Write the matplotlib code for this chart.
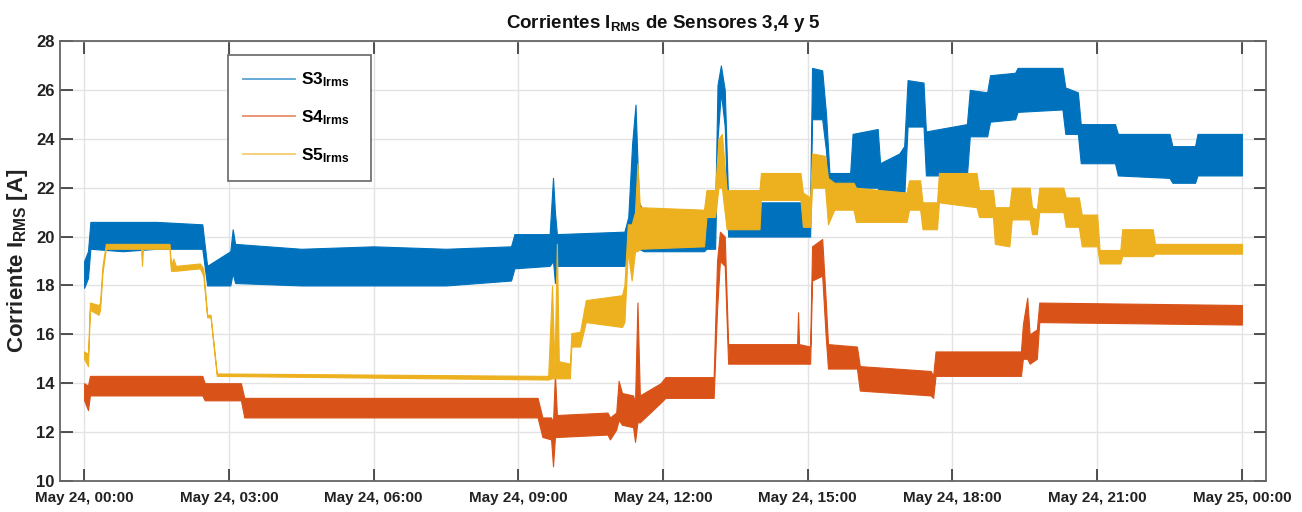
import matplotlib
matplotlib.use("Agg")
import matplotlib.pyplot as plt
from matplotlib.lines import Line2D

# ---------------- data: (hour since May 24 00:00, lower edge, upper edge) of each noisy band -------------
s3_band = [
    (0.00, 17.9, 19.0), (0.08, 18.3, 19.4), (0.13, 19.5, 20.6), (0.80, 19.4, 20.6), (1.50, 19.5, 20.6),
    (2.45, 19.5, 20.5), (2.55, 18.0, 18.8), (3.03, 18.0, 19.4), (3.08, 18.5, 20.3), (3.13, 18.1, 19.7),
    (4.50, 18.0, 19.5), (6.00, 18.0, 19.6), (7.50, 18.0, 19.5), (8.85, 18.2, 19.6), (8.92, 18.7, 20.1),
    (9.65, 18.8, 20.1), (9.72, 19.0, 22.4), (9.76, 18.1, 21.0), (9.80, 18.8, 20.1), (11.20, 18.8, 20.2),
    (11.28, 19.4, 20.8), (11.36, 19.5, 23.8), (11.43, 19.8, 25.4), (11.50, 19.5, 21.4), (11.60, 19.4, 21.0),
    (12.85, 19.4, 21.0), (12.90, 19.5, 20.8), (13.08, 19.5, 20.8), (13.13, 24.0, 26.2), (13.20, 25.9, 27.0),
    (13.28, 24.5, 26.0), (13.35, 20.0, 21.5), (14.00, 20.0, 21.4), (15.05, 20.0, 21.4), (15.09, 24.8, 26.9),
    (15.30, 24.8, 26.8), (15.38, 23.5, 25.0), (15.45, 21.2, 22.6), (15.88, 21.2, 22.6), (15.93, 22.0, 24.2),
    (16.45, 22.0, 24.4), (16.50, 21.5, 23.0), (16.90, 21.5, 23.4), (17.00, 21.6, 23.7), (17.07, 24.5, 26.4),
    (17.40, 24.5, 26.3), (17.45, 22.5, 24.3), (18.30, 22.5, 24.6), (18.36, 24.1, 26.0), (18.72, 24.1, 25.9),
    (18.78, 24.7, 26.6), (19.30, 24.8, 26.7), (19.35, 25.1, 26.9), (20.28, 25.2, 26.9), (20.34, 24.2, 26.1),
    (20.60, 24.2, 25.9), (20.66, 23.0, 24.6), (21.37, 23.0, 24.6), (21.43, 22.5, 24.2), (22.50, 22.4, 24.2),
    (22.56, 22.2, 23.7), (23.03, 22.2, 23.7), (23.08, 22.5, 24.2), (24.00, 22.5, 24.2),
]

s4_band = [
    (0.00, 13.3, 14.0), (0.08, 12.9, 13.9), (0.12, 13.5, 14.3), (2.45, 13.5, 14.3), (2.50, 13.3, 14.0),
    (3.25, 13.3, 14.0), (3.32, 12.6, 13.4), (9.40, 12.6, 13.4), (9.50, 11.8, 12.6), (9.68, 11.7, 12.6),
    (9.72, 10.6, 12.4), (9.76, 11.8, 14.4), (9.80, 11.8, 12.7), (10.85, 11.9, 12.8), (10.90, 11.7, 12.6),
    (11.03, 12.1, 12.8), (11.08, 12.5, 14.1), (11.15, 12.3, 13.6), (11.38, 12.2, 13.5), (11.42, 11.6, 13.2),
    (11.47, 12.4, 17.3), (11.52, 12.4, 13.5), (11.95, 13.2, 14.0), (12.05, 13.4, 14.25), (13.05, 13.4, 14.25),
    (13.12, 17.0, 19.0), (13.18, 19.0, 20.2), (13.28, 18.8, 20.0), (13.35, 14.8, 15.6), (14.78, 14.8, 15.6),
    (14.80, 14.8, 16.9), (14.82, 14.8, 15.6), (15.05, 14.8, 15.5), (15.09, 18.2, 19.6), (15.30, 18.4, 19.9),
    (15.37, 16.0, 17.5), (15.42, 14.6, 15.6), (16.02, 14.6, 15.5), (16.08, 13.7, 14.7), (17.55, 13.5, 14.5),
    (17.60, 13.4, 14.3), (17.65, 14.3, 15.3), (19.42, 14.3, 15.3), (19.46, 15.0, 16.4), (19.55, 15.0, 17.5),
    (19.60, 14.8, 16.0), (19.75, 15.0, 16.2), (19.80, 16.5, 17.3), (24.00, 16.4, 17.2),
]

s5_band = [
    (0.00, 15.0, 15.3), (0.08, 14.7, 15.2), (0.12, 17.0, 17.3), (0.30, 16.8, 17.2), (0.33, 17.0, 17.3),
    (0.38, 18.5, 18.8), (0.45, 19.5, 19.7), (1.18, 19.5, 19.7), (1.20, 18.8, 19.7), (1.22, 19.5, 19.7),
    (1.77, 19.5, 19.7), (1.80, 18.6, 18.8), (1.85, 18.6, 19.1), (1.90, 18.6, 18.8), (2.40, 18.7, 18.9),
    (2.47, 18.4, 18.7), (2.55, 16.7, 16.8), (2.62, 16.7, 16.8), (2.75, 14.3, 14.4), (9.62, 14.15, 14.3),
    (9.70, 14.2, 18.0), (9.75, 14.2, 14.6), (9.80, 14.2, 19.7), (9.84, 14.2, 14.9), (10.07, 14.2, 14.8),
    (10.10, 15.5, 16.05), (10.28, 15.5, 16.1), (10.40, 16.5, 17.4), (11.15, 16.3, 17.6), (11.20, 16.5, 18.0),
    (11.27, 19.4, 20.5), (11.35, 18.2, 20.5), (11.42, 19.4, 21.0), (11.47, 19.4, 23.0), (11.52, 19.5, 21.2),
    (12.85, 19.6, 21.1), (12.90, 20.8, 21.9), (13.08, 20.8, 21.9), (13.15, 22.0, 24.0), (13.22, 22.0, 24.2),
    (13.32, 20.3, 21.9), (14.00, 20.3, 21.9), (14.03, 21.5, 22.6), (14.85, 21.5, 22.6), (14.90, 20.4, 21.8),
    (15.05, 20.4, 21.6), (15.09, 22.0, 23.4), (15.36, 22.0, 23.3), (15.42, 20.5, 22.4), (15.55, 21.1, 22.2),
    (15.95, 21.1, 22.2), (16.00, 20.6, 22.0), (16.50, 20.6, 21.9), (17.05, 20.6, 21.8), (17.10, 21.1, 22.3),
    (17.33, 21.1, 22.3), (17.38, 20.3, 21.4), (17.68, 20.3, 21.4), (17.72, 21.4, 22.6), (18.50, 21.2, 22.6),
    (18.55, 20.8, 21.9), (18.84, 20.8, 21.9), (18.88, 19.7, 21.2), (19.18, 19.6, 21.2), (19.23, 20.7, 22.0),
    (19.60, 20.7, 22.0), (19.65, 20.1, 21.2), (19.75, 20.1, 21.1), (19.80, 21.0, 22.0), (20.30, 21.0, 22.0),
    (20.35, 20.4, 21.6), (20.62, 20.4, 21.6), (20.68, 19.6, 20.9), (21.00, 19.6, 20.9), (21.05, 18.9, 19.45),
    (21.48, 18.9, 19.45), (21.52, 19.2, 20.3), (22.15, 19.2, 20.3), (22.20, 19.3, 19.7), (24.00, 19.3, 19.7),
]

series_names = [r"S3$_{\mathregular{Irms}}$", r"S4$_{\mathregular{Irms}}$", r"S5$_{\mathregular{Irms}}$"]
series_colors = ["#0072BD", "#D95319", "#EDB120"]

tick_hours = [0, 3, 6, 9, 12, 15, 18, 21, 24]
tick_labels = ["May 24, 00:00", "May 24, 03:00", "May 24, 06:00", "May 24, 09:00", "May 24, 12:00",
               "May 24, 15:00", "May 24, 18:00", "May 24, 21:00", "May 25, 00:00"]
y_ticks = [10, 12, 14, 16, 18, 20, 22, 24, 26, 28]

# ---------------- style ----------------
fam = "Liberation Sans"
plt.rcParams["font.family"] = [fam, "DejaVu Sans"]
plt.rcParams["font.weight"] = "bold"
plt.rcParams["mathtext.fontset"] = "custom"
plt.rcParams["mathtext.rm"] = fam + ":bold"
plt.rcParams["mathtext.it"] = fam + ":bold"
plt.rcParams["mathtext.bf"] = fam + ":bold"

fig = plt.figure(figsize=(13.02, 5.12), dpi=100)
ax = fig.add_axes([60 / 1302, 1 - 481 / 512, 1206 / 1302, 440 / 512])

for band, c in zip([s3_band, s4_band, s5_band], series_colors):
    t = [r[0] for r in band]
    lo = [r[1] for r in band]
    hi = [r[2] for r in band]
    ax.fill_between(t, lo, hi, color=c, edgecolor=c, linewidth=0.8, zorder=3)

ax.set_xlim(-0.5, 24.5)
ax.set_ylim(10, 28)
ax.set_xticks(tick_hours)
ax.set_xticklabels(tick_labels, fontsize=11, fontweight="bold")
ax.set_yticks(y_ticks)
ax.set_yticklabels([str(v) for v in y_ticks], fontsize=12, fontweight="bold")
ax.tick_params(axis="both", direction="in", length=9, width=1.2, color="#333333",
               top=True, right=True, labelcolor="#222222")
ax.tick_params(axis="x", pad=7)
ax.tick_params(axis="y", pad=4)
ax.grid(True, color="#e3e3e3", linewidth=1.0, zorder=0)
ax.set_axisbelow(True)
for sp in ax.spines.values():
    sp.set_color("#666666")
    sp.set_linewidth(1.3)

ax.set_title(r"Corrientes I$_{\mathregular{RMS}}$ de Sensores 3,4 y 5", fontsize=13.5,
             fontweight="bold", pad=9, color="#111111")
ax.set_ylabel(r"Corriente I$_{\mathregular{RMS}}$ [A]", fontsize=16, fontweight="bold",
              labelpad=4, color="#222222")

handles = [Line2D([], [], color=c, linewidth=1.3, alpha=0.65) for c in series_colors]
leg = ax.legend(handles, series_names, loc="upper left",
                bbox_to_anchor=(0.139, 0.968 - 0.289, 0.1186, 0.289), mode="expand",
                borderaxespad=0, frameon=True, fancybox=False, framealpha=1,
                edgecolor="#666666", fontsize=12.5, handlelength=3.0, handletextpad=0.35,
                labelspacing=1.1, borderpad=0.9)
leg.get_frame().set_linewidth(1.2)
leg.set_zorder(5)

fig.savefig("out.png", dpi=100, facecolor="white")
